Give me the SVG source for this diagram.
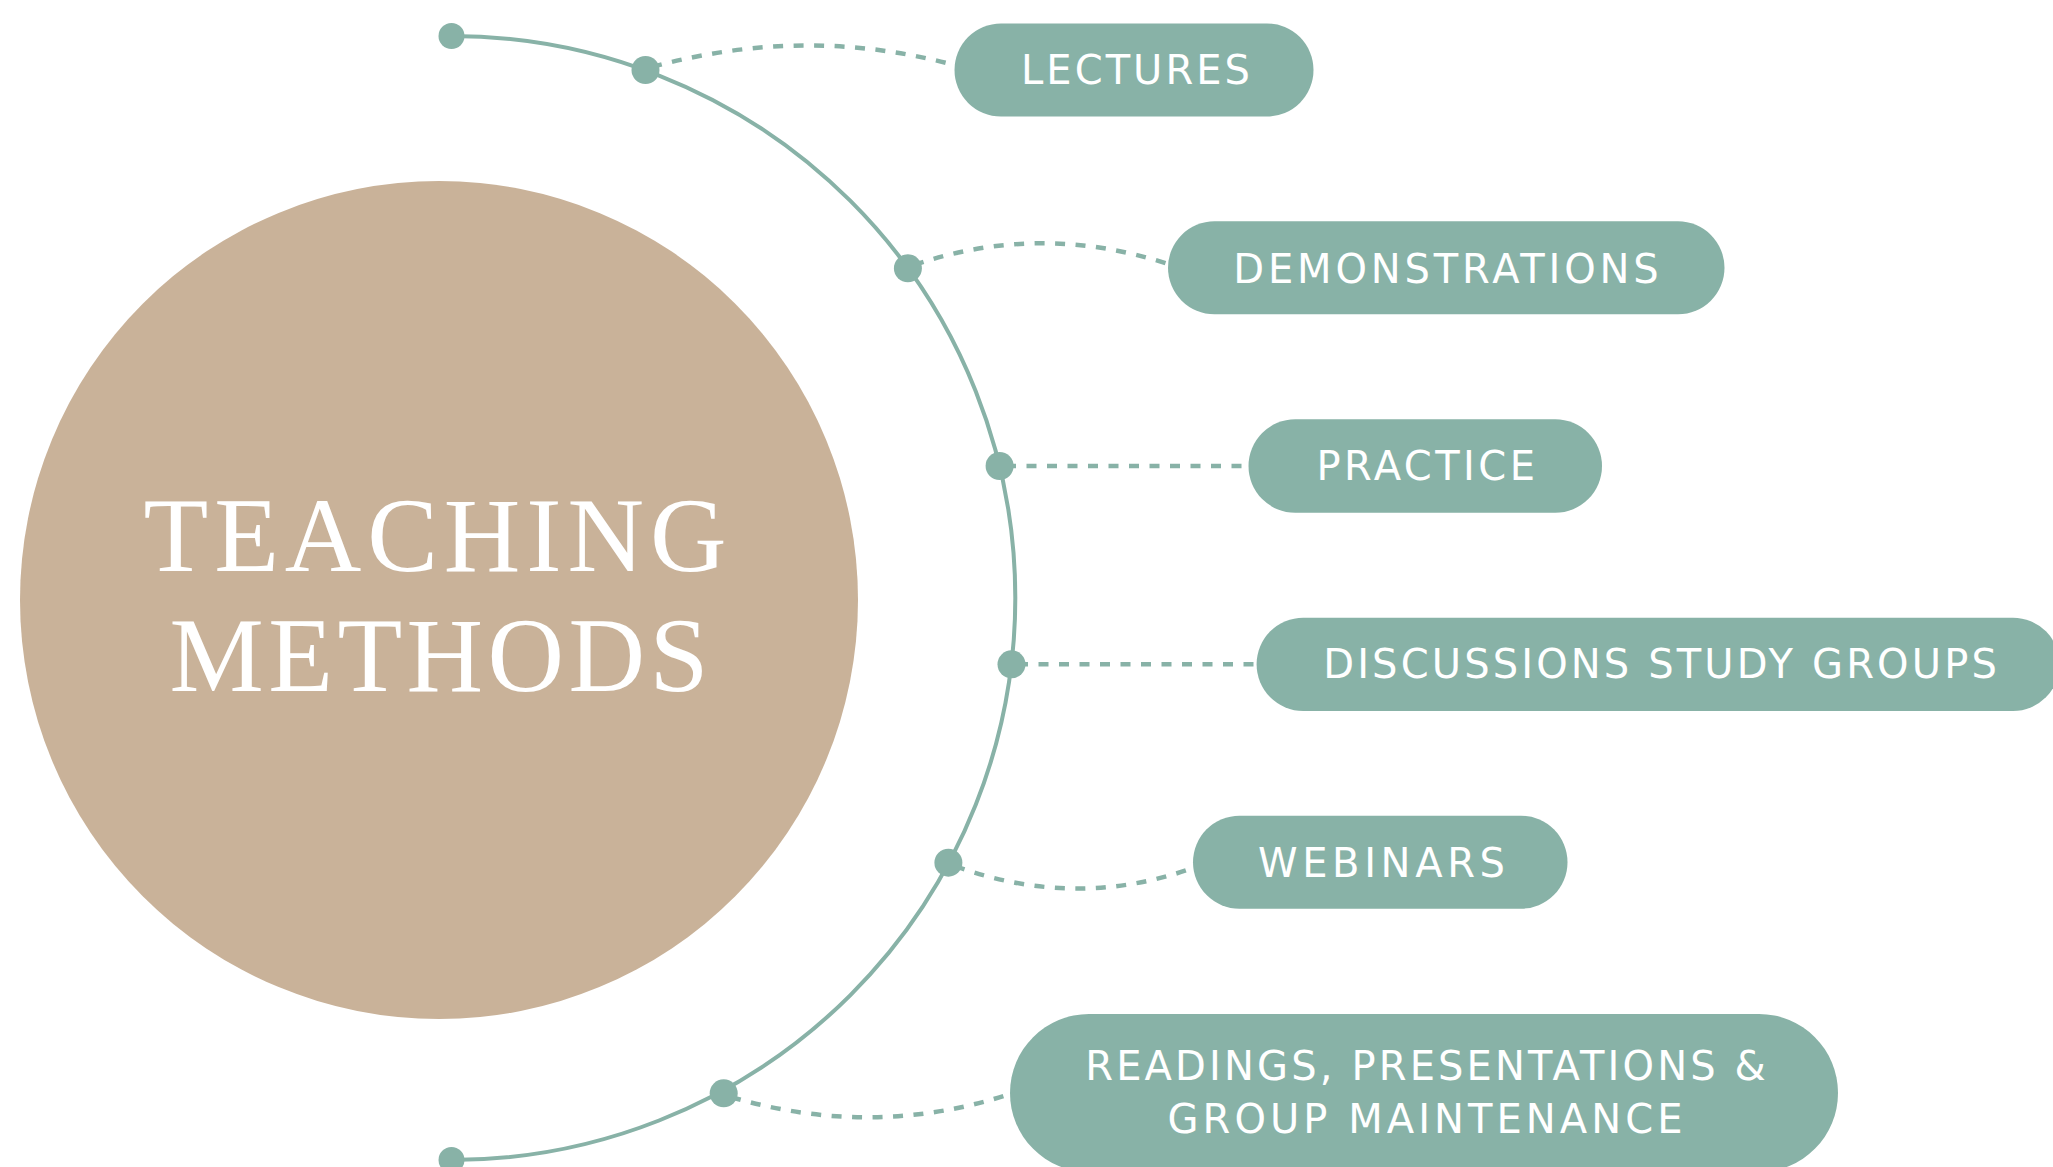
<svg xmlns="http://www.w3.org/2000/svg" width="2053" height="1167" viewBox="0 0 2053 1167">
  <style>
    .pill { fill: #88B2A7; }
    .label { fill: #FFFFFF; font-family: "DejaVu Sans", "Open Sans", "Liberation Sans", sans-serif; font-size: 40px; font-weight: 400; text-anchor: middle; }
    .title { fill: #FFFFFF; font-family: "Liberation Serif", "DejaVu Serif", serif; font-size: 106px; font-weight: 400; text-anchor: middle; }
    .arc { fill: none; stroke: #88B2A7; stroke-width: 4; }
    .dash { fill: none; stroke: #88B2A7; stroke-width: 4.5; stroke-dasharray: 10 10.5; }
    .dot { fill: #88B2A7; }
  </style>
  <rect width="2053" height="1167" fill="#FFFFFF"/>

  <g id="center">
    <circle cx="439" cy="600" r="419" fill="#C9B299"/>
    <text class="title" x="435" y="571" textLength="583" lengthAdjust="spacing">TEACHING</text>
    <text class="title" x="439" y="691" textLength="539" lengthAdjust="spacing">METHODS</text>
  </g>

  <g id="connectors">
    <path class="arc" d="M 451.5 36 A 564 562 0 0 1 451.5 1160"/>
    <path class="dash" d="M 652 67 Q 806 25 954 65"/>
    <path class="dash" d="M 914 265 Q 1040 222 1168 264"/>
    <path class="dash" d="M 1006 466 L 1249 466"/>
    <path class="dash" d="M 1018 664.3 L 1257 664.3"/>
    <path class="dash" d="M 955 866 Q 1075 910 1193 868"/>
    <path class="dash" d="M 731 1097 Q 873 1139 1010 1094"/>
    <circle class="dot" cx="451.5" cy="36" r="13"/>
    <circle class="dot" cx="451.5" cy="1160" r="13"/>
  </g>

  <g id="dots">
    <circle class="dot" cx="645.5" cy="70" r="14"/>
    <circle class="dot" cx="907.9" cy="268.3" r="14"/>
    <circle class="dot" cx="999.6" cy="466" r="14"/>
    <circle class="dot" cx="1011.5" cy="664.3" r="14"/>
    <circle class="dot" cx="948.4" cy="862.7" r="14"/>
    <circle class="dot" cx="723.7" cy="1093.3" r="14"/>
  </g>

  <g id="node-lectures">
    <rect class="pill" x="954.5" y="23.5" width="359" height="93" rx="46.5"/>
    <text class="label" x="1135.5" y="84" textLength="229" lengthAdjust="spacing">LECTURES</text>
  </g>
  <g id="node-demonstrations">
    <rect class="pill" x="1168" y="221.3" width="556.5" height="93" rx="46.5"/>
    <text class="label" x="1446" y="282.5" textLength="425.5" lengthAdjust="spacing">DEMONSTRATIONS</text>
  </g>
  <g id="node-practice">
    <rect class="pill" x="1248.5" y="419.3" width="353.5" height="93.5" rx="46.75"/>
    <text class="label" x="1425.75" y="480" textLength="218.5" lengthAdjust="spacing">PRACTICE</text>
  </g>
  <g id="node-discussions">
    <rect class="pill" x="1256.6" y="617.7" width="803" height="93.3" rx="46.65"/>
    <text class="label" x="1660" y="678" textLength="673.6" lengthAdjust="spacing">DISCUSSIONS STUDY GROUPS</text>
  </g>
  <g id="node-webinars">
    <rect class="pill" x="1193" y="815.7" width="374.5" height="93" rx="46.5"/>
    <text class="label" x="1381.5" y="876.5" textLength="247" lengthAdjust="spacing">WEBINARS</text>
  </g>
  <g id="node-readings">
    <rect class="pill" x="1010" y="1014" width="828" height="158" rx="79"/>
    <text class="label" x="1425.5" y="1080" textLength="680.6" lengthAdjust="spacing">READINGS, PRESENTATIONS &amp;</text>
    <text class="label" x="1425" y="1133" textLength="515" lengthAdjust="spacing">GROUP MAINTENANCE</text>
  </g>
</svg>
